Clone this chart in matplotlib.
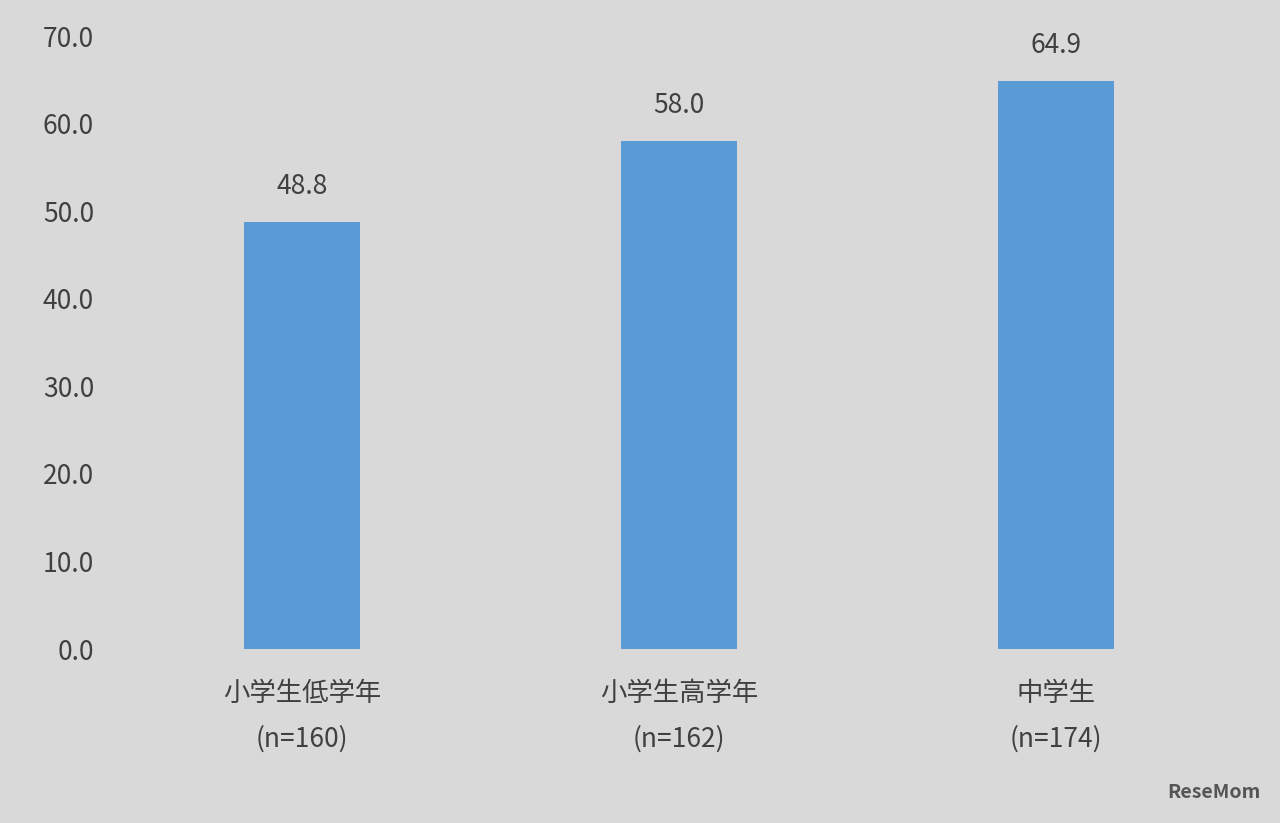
import matplotlib
matplotlib.use("Agg")
import matplotlib.pyplot as plt

categories = ["小学生低学年\n(n=160)", "小学生高学年\n(n=162)", "中学生\n(n=174)"]
values = [48.8, 58.0, 64.9]
yticks = [0, 10, 20, 30, 40, 50, 60, 70]

plt.rcParams['font.family'] = ['Noto Sans CJK JP', 'DejaVu Sans']
bg = "#d9d9d9"
tc = "#404040"
fig = plt.figure(figsize=(12.8, 8.23), dpi=100, facecolor=bg)
ax = fig.add_axes([0.0887, 0.2114, 0.8836, 0.7448], facecolor=bg)
x = range(len(values))
ax.bar(x, values, width=0.31, color="#5b9bd5")
for xi, v in zip(x, values):
    ax.text(xi, v + 2.5, f"{v:.1f}", ha="center", va="bottom", fontsize=19, color=tc)
ax.set_xlim(-0.5, 2.5)
ax.set_ylim(0, 70)
ax.set_yticks(yticks)
ax.set_yticklabels([f"{t:.1f}" for t in yticks], fontsize=19, color=tc)
ax.set_xticks(list(x))
ax.set_xticklabels(categories, fontsize=19, color=tc, linespacing=1.9)
ax.tick_params(length=0, pad=14)
ax.tick_params(axis='x', pad=22)
for s in ax.spines.values():
    s.set_visible(False)
fig.text(0.985, 0.025, "ReseMom", ha="right", va="bottom", fontsize=14, color="#555555", fontweight="bold")
fig.savefig("out.png", dpi=100, facecolor=bg)
